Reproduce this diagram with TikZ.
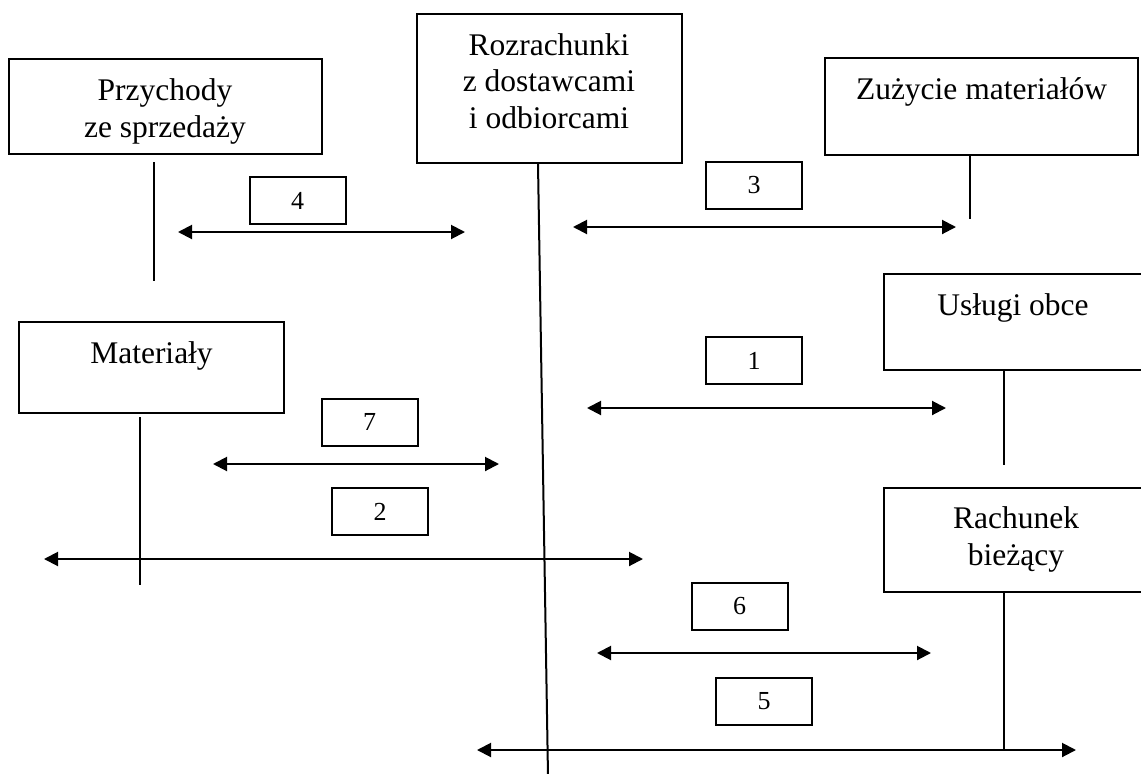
\documentclass[tikz,border=0pt]{standalone}
\usepackage{fontspec}
\setmainfont{Liberation Serif}
\usetikzlibrary{arrows.meta}
\begin{document}
\begin{tikzpicture}[x=1pt,y=-1pt,
  line width=2pt,
  account/.style={draw, rectangle, inner sep=0pt},
  heading/.style={inner sep=0pt, anchor=base, align=center,
    font=\fontsize{31.5}{36.5}\selectfont},
  tag/.style={draw, rectangle, inner sep=0pt, minimum width=96pt,
    minimum height=47pt, font=\fontsize{26}{30}\selectfont},
  flow/.style={{Triangle[length=14pt,width=14pt]}-{Triangle[length=14pt,width=14pt]}}]
\useasboundingbox (0,0) rectangle (1141,774);

% account boxes
\node[account, minimum width=313pt, minimum height=95pt]  (przych) at (165.5,106.5) {};
\node[account, minimum width=265pt, minimum height=149pt] (rozr)   at (549.5,88.5) {};
\node[account, minimum width=313pt, minimum height=97pt]  (zuz)    at (981.5,106.5) {};
\node[account, minimum width=265pt, minimum height=91pt]  (mat)    at (151.5,367.5) {};
\node[account, minimum width=276pt, minimum height=96pt]  (usl)    at (1022,322) {};
\node[account, minimum width=276pt, minimum height=104pt] (rach)   at (1022,540) {};

% account names (anchored at the baseline of the last line)
\node[heading] (przychT) at (165,137) {Przychody\\ze sprzedaży};
\node[heading] (rozrT)   at (549,128) {Rozrachunki\\z dostawcami\\i odbiorcami};
\node[heading] (zuzT)    at (981.5,99) {Zużycie materiałów};
\node[heading] (matT)    at (151.5,363) {Materiały};
\node[heading] (uslT)    at (1013,315) {Usługi obce};
\node[heading] (rachT)   at (1016,565) {Rachunek\\bieżący};

% ends of the account lines
\coordinate (pEnd) at (154,281);
\coordinate (rEnd) at (548,776);
\coordinate (zEnd) at (970,219);
\coordinate (mEnd) at (140,585);
\coordinate (uEnd) at (1004,465);
\coordinate (bEnd) at (1004,750);

\draw ([yshift=-7pt]przych.south -| pEnd) -- (pEnd);
\draw (rozr.south -| 538,0) -- (rEnd);
\draw (zuz.south -| zEnd) -- (zEnd);
\draw ([yshift=-3pt]mat.south -| mEnd) -- (mEnd);
\draw (usl.south -| uEnd) -- (uEnd);
\draw (rach.south -| bEnd) -- (bEnd);

% operation arrows
\coordinate (a4l) at (178,232); \coordinate (a4r) at (465,232);
\coordinate (a3l) at (573,227); \coordinate (a3r) at (956,227);
\coordinate (a1l) at (587,408); \coordinate (a1r) at (946,408);
\coordinate (a7l) at (213,464); \coordinate (a7r) at (499,464);
\coordinate (a2l) at (44,559);  \coordinate (a2r) at (643,559);
\coordinate (a6l) at (597,653); \coordinate (a6r) at (931,653);
\coordinate (a5l) at (477,750); \coordinate (a5r) at (1076,750);

\draw[flow] (a4l) -- (a4r);
\draw[flow] (a3l) -- (a3r);
\draw[flow] (a1l) -- (a1r);
\draw[flow] (a7l) -- (a7r);
\draw[flow] (a2l) -- (a2r);
\draw[flow] (a6l) -- (a6r);
\draw[flow] (a5l) -- (a5r);

% operation numbers
\node[tag] (t4) at (297.5,200.5) {4};
\node[tag] (t3) at (754,185)     {3};
\node[tag] (t1) at (754,360.5)   {1};
\node[tag] (t7) at (369.5,422)   {7};
\node[tag] (t2) at (380,511.5)   {2};
\node[tag] (t6) at (739.5,606.5) {6};
\node[tag] (t5) at (764,701)     {5};
\end{tikzpicture}
\end{document}
